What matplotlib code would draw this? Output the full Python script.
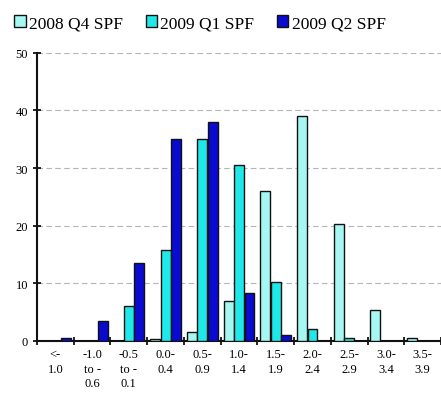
import matplotlib
matplotlib.use("Agg")
import matplotlib.pyplot as plt
import numpy as np
from matplotlib.patches import Patch

categories = ["<-\n1.0", "-1.0\nto -\n0.6", "-0.5\nto -\n0.1", "0.0-\n0.4", "0.5-\n0.9",
              "1.0-\n1.4", "1.5-\n1.9", "2.0-\n2.4", "2.5-\n2.9", "3.0-\n3.4", "3.5-\n3.9"]
series_names = ["2008 Q4 SPF", "2009 Q1 SPF", "2009 Q2 SPF"]
q4_2008 = [0, 0, 0, 0.3, 1.5, 7.0, 26.0, 39.0, 20.3, 5.3, 0.6]
q1_2009 = [0, 0, 6.0, 15.8, 35.0, 30.5, 10.3, 2.0, 0.5, 0, 0]
q2_2009 = [0.5, 3.5, 13.5, 35.0, 38.0, 8.3, 1.0, 0, 0, 0, 0]
yticks = [0, 10, 20, 30, 40, 50]

colors = ["#a6f7f2", "#1ee8e8", "#0a0ad0"]

plt.rcParams['font.family'] = ['Liberation Serif', 'DejaVu Serif']

fig = plt.figure(figsize=(4.41, 4.14), dpi=100)
ax = fig.add_axes([0.084, 0.174, 0.916, 0.696])

x = np.arange(len(categories))
w = 0.27
offs = [-0.285, 0.0, 0.285]
for data, c, o, name in zip([q4_2008, q1_2009, q2_2009], colors, offs, series_names):
    ax.bar(x + o, data, width=w, color=c, edgecolor="#111111", linewidth=1.0, label=name, zorder=3)

ax.set_xlim(-0.5, len(categories) - 0.5)
ax.set_ylim(0, 50)
ax.set_yticks(yticks)
ax.set_yticklabels([str(v) for v in yticks], fontsize=9)
ax.yaxis.grid(True, linestyle=(0, (5, 3)), color="#b5b5b5", linewidth=0.8, zorder=0)
ax.set_axisbelow(True)

ax.set_xticks(np.arange(len(categories) + 1) - 0.5)
ax.set_xticklabels([])
ax.set_xticks(x, minor=True)
ax.set_xticklabels(categories, minor=True, fontsize=9, linespacing=1.3)
ax.tick_params(axis='x', which='minor', length=0, pad=5)
ax.tick_params(axis='x', which='major', direction='inout', length=6, width=1.2)
ax.tick_params(axis='y', direction='inout', length=6, width=1.2)

for s in ["top", "right"]:
    ax.spines[s].set_visible(False)
for s in ["left", "bottom"]:
    ax.spines[s].set_linewidth(1.5)
    ax.spines[s].set_color("#111111")

handles = [Patch(facecolor=c, edgecolor="#111111", linewidth=1.0) for c in colors]
fig.legend(handles, series_names, loc="upper left", bbox_to_anchor=(0.005, 0.99), ncol=3,
           frameon=False, fontsize=12.5, handlelength=0.65, handleheight=0.65,
           handletextpad=0.2, columnspacing=1.3, borderaxespad=0.3)

fig.savefig("out.png", dpi=100)
